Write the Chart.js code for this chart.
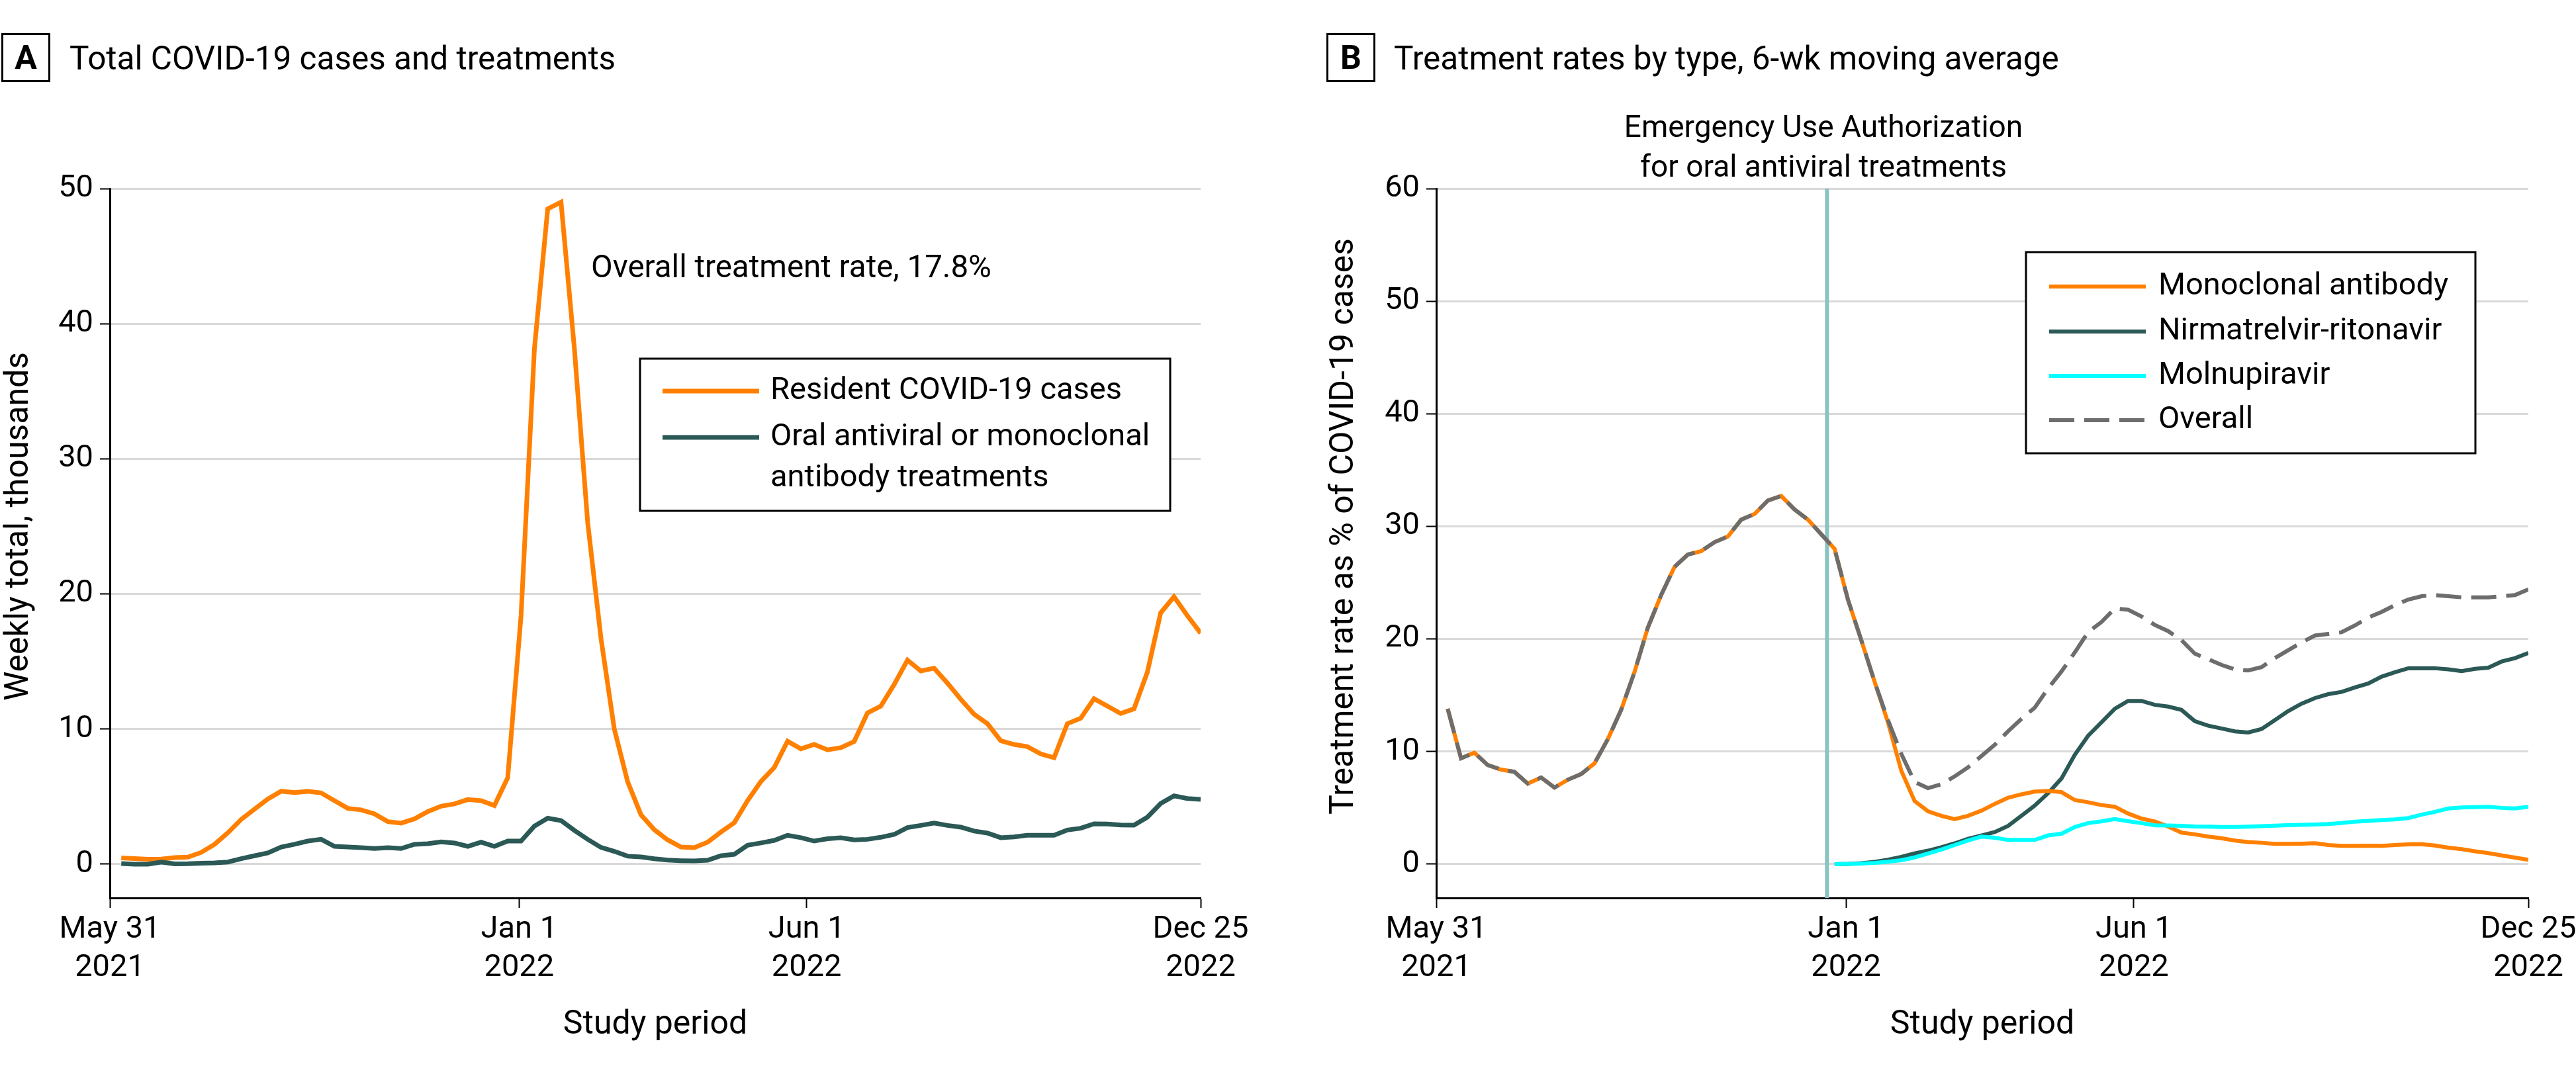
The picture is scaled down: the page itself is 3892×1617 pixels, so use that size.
<!DOCTYPE html>
<html>
<head>
<meta charset="utf-8">
<script src="https://cdn.jsdelivr.net/npm/chart.js@4.4.1/dist/chart.umd.min.js"></script>
<style>
  body { margin: 0; background: #fff; width: 3892px; height: 1617px; position: relative; overflow: hidden; font-family: Roboto, sans-serif; color: #000; }
  .panel { position: absolute; top: 0; width: 1946px; height: 1617px; }
  #panelA { left: 0; }
  #panelB { left: 1946px; }
  canvas { position: absolute; left: 0; top: 0; }
  .tag { position: absolute; top: 50px; width: 68px; height: 68px; border: 3px solid #000; font-weight: bold; font-size: 50px; line-height: 68px; text-align: center; }
  .title { position: absolute; top: 58px; font-size: 49.5px; line-height: 60px; white-space: nowrap; }
  .note { position: absolute; font-size: 47.5px; line-height: 60px; white-space: nowrap; }
</style>
</head>
<body>
<div class="panel" id="panelA">
  <canvas id="chartA" width="1946" height="1617"></canvas>
  <div class="tag" style="left:2px">A</div>
  <div class="title" style="left:105px">Total COVID-19 cases and treatments</div>
  <div class="note" style="left:893px; top:373px">Overall treatment rate, 17.8%</div>
</div>
<div class="panel" id="panelB">
  <canvas id="chartB" width="1946" height="1617"></canvas>
  <div class="tag" style="left:58px">B</div>
  <div class="title" style="left:160px">Treatment rates by type, 6-wk moving average</div>
  <div class="note" style="left:309px; width:1000px; top:161px; text-align:center; font-size:46px">Emergency Use Authorization<br>for oral antiviral treatments</div>
</div>
<script>
const FONT = 'Roboto';

// weeks ending Sun Jun 6 2021 ... Sun Dec 25 2022, as days after May 31 2021
const weekDays = Array.from({ length: 82 }, (_, i) => 6 + 7 * i);

const tickDays = [0, 215, 366, 573];
const tickLabels = [['May 31', '2021'], ['Jan 1', '2022'], ['Jun 1', '2022'], ['Dec 25', '2022']];
const yTicksA = [0, 10, 20, 30, 40, 50];
const yTicksB = [0, 10, 20, 30, 40, 50, 60];
const euaDay = 205; // Dec 22 2021

// Panel A, weekly totals in thousands
const residentCases = [
  0.46, 0.41, 0.36, 0.38, 0.49, 0.52, 0.87, 1.47, 2.33, 3.31,
  4.08, 4.82, 5.4, 5.3, 5.39, 5.27, 4.7, 4.13, 4.02, 3.72,
  3.15, 3.04, 3.35, 3.89, 4.29, 4.46, 4.78, 4.7, 4.34, 6.4,
  18.4, 38.1, 48.5, 49.0, 38.2, 25.3, 16.7, 10.0, 6.1, 3.65,
  2.55, 1.8, 1.27, 1.22, 1.63, 2.38, 3.07, 4.7, 6.12, 7.15,
  9.1, 8.54, 8.86, 8.46, 8.62, 9.08, 11.2, 11.7, 13.3, 15.1,
  14.3, 14.5, 13.4, 12.2, 11.1, 10.4, 9.14, 8.86, 8.7, 8.16,
  7.88, 10.4, 10.8, 12.25, 11.7, 11.15, 11.5, 14.2, 18.6, 19.8,
  18.4, 17.1
];
const treatments = [
  0.05, 0.0, 0.0, 0.16, 0.02, 0.03, 0.07, 0.1, 0.16, 0.41,
  0.62, 0.83, 1.27, 1.47, 1.71, 1.84, 1.32, 1.27, 1.22, 1.16,
  1.22, 1.16, 1.47, 1.52, 1.65, 1.57, 1.32, 1.63, 1.32, 1.71,
  1.71, 2.82, 3.4, 3.23, 2.5, 1.84, 1.24, 0.95, 0.59, 0.54,
  0.4, 0.3, 0.26, 0.24, 0.29, 0.62, 0.73, 1.4, 1.57, 1.76,
  2.14, 1.96, 1.71, 1.88, 1.96, 1.8, 1.84, 1.99, 2.2, 2.71,
  2.87, 3.04, 2.87, 2.74, 2.45, 2.3, 1.96, 2.02, 2.14, 2.14,
  2.14, 2.53, 2.66, 2.99, 2.97, 2.9, 2.89, 3.48, 4.49, 5.06,
  4.86, 4.8
];

// Panel B, % of cases, 6-wk moving average
const monoclonal = [
  13.8, 9.4, 9.9, 8.8, 8.4, 8.2, 7.15, 7.7, 6.8, 7.5,
  8.0, 8.95, 11.1, 13.7, 17.05, 21.0, 23.9, 26.4, 27.5, 27.8,
  28.6, 29.1, 30.6, 31.1, 32.3, 32.7, 31.5, 30.6, 29.3, 28.0,
  23.5, 19.9, 16.2, 12.6, 8.3, 5.6, 4.7, 4.3, 4.0, 4.3,
  4.75, 5.35, 5.9, 6.2, 6.45, 6.5, 6.4, 5.7, 5.5, 5.25,
  5.1, 4.5, 4.05, 3.8, 3.35, 2.8, 2.65, 2.45, 2.3, 2.1,
  1.96, 1.9, 1.8, 1.8, 1.82, 1.86, 1.7, 1.63, 1.63, 1.65,
  1.63, 1.7, 1.76, 1.78, 1.66, 1.47, 1.33, 1.14, 0.98, 0.78,
  0.59, 0.39
];
const nirmatrelvir = [
  null, null, null, null, null, null, null, null, null, null,
  null, null, null, null, null, null, null, null, null, null,
  null, null, null, null, null, null, null, null, null, 0.0,
  0.02, 0.08, 0.2, 0.4, 0.65, 0.95, 1.2, 1.5, 1.85, 2.25,
  2.55, 2.85, 3.4, 4.3, 5.2, 6.3, 7.6, 9.7, 11.4, 12.6,
  13.8, 14.5, 14.5, 14.15, 14.0, 13.7, 12.7, 12.3, 12.05, 11.8,
  11.7, 12.0, 12.8, 13.6, 14.25, 14.75, 15.1, 15.3, 15.7, 16.05,
  16.65, 17.05, 17.4, 17.4, 17.4, 17.3, 17.15, 17.35, 17.45, 18.0,
  18.3, 18.75
];
const molnupiravir = [
  null, null, null, null, null, null, null, null, null, null,
  null, null, null, null, null, null, null, null, null, null,
  null, null, null, null, null, null, null, null, null, 0.0,
  0.02, 0.05, 0.12, 0.22, 0.35, 0.6, 0.95, 1.3, 1.7, 2.1,
  2.45, 2.35, 2.15, 2.15, 2.15, 2.55, 2.7, 3.3, 3.65, 3.8,
  4.0, 3.82, 3.65, 3.45, 3.43, 3.4, 3.35, 3.33, 3.3, 3.3,
  3.33, 3.38, 3.42, 3.47, 3.5, 3.53, 3.57, 3.66, 3.78, 3.85,
  3.92, 3.98, 4.1, 4.4, 4.65, 4.95, 5.03, 5.06, 5.1, 5.0,
  4.95, 5.1
];
const overall = [
  13.8, 9.4, 9.9, 8.8, 8.4, 8.2, 7.15, 7.7, 6.8, 7.5,
  8.0, 8.95, 11.1, 13.7, 17.05, 21.0, 23.9, 26.4, 27.5, 27.8,
  28.6, 29.1, 30.6, 31.1, 32.3, 32.7, 31.5, 30.6, 29.3, 28.0,
  23.5, 19.9, 16.2, 12.8, 9.8, 7.3, 6.75, 7.1, 7.8, 8.6,
  9.6, 10.6, 11.8, 12.9, 13.9, 15.6, 17.1, 18.8, 20.6, 21.5,
  22.7, 22.6, 22.0, 21.25, 20.7, 19.9, 18.7, 18.2, 17.7, 17.3,
  17.2, 17.5, 18.3, 19.0, 19.7, 20.3, 20.45, 20.6, 21.2, 21.9,
  22.4, 23.0, 23.5, 23.8, 23.9, 23.8, 23.7, 23.7, 23.7, 23.8,
  23.9, 24.4
];

const ORANGE = '#ff8000';
const TEAL = '#2b5956';
const CYAN = '#00ffff';
const GREY = '#6d6d6d';

const points = vals => weekDays.map((d, i) => ({ x: d, y: vals[i] }));

function line(label, vals, color, width, extra) {
  return Object.assign({
    label, data: points(vals), borderColor: color, backgroundColor: color,
    borderWidth: width, pointRadius: 0, tension: 0, fill: false, spanGaps: false,
    borderJoinStyle: 'miter'
  }, extra || {});
}

// vertical marker for the EUA date
const euaLine = {
  id: 'euaLine',
  beforeDatasetsDraw(chart, args, opts) {
    if (opts.day == null) return;
    const { ctx, chartArea } = chart;
    const x = chart.scales.x.getPixelForValue(opts.day);
    ctx.save();
    ctx.strokeStyle = '#88c4c2';
    ctx.lineWidth = 6;
    ctx.beginPath();
    ctx.moveTo(x, chartArea.top);
    ctx.lineTo(x, chartArea.bottom);
    ctx.stroke();
    ctx.restore();
  }
};

// y title centred on the tick range, not on the whole axis
const yTitle = {
  id: 'yTitle',
  afterDraw(chart, args, opts) {
    const y = chart.scales.y;
    const mid = (y.getPixelForValue(0) + y.getPixelForValue(y.max)) / 2;
    const ctx = chart.ctx;
    ctx.save();
    ctx.translate(opts.x, mid);
    ctx.rotate(-Math.PI / 2);
    ctx.font = '50px ' + FONT;
    ctx.fillStyle = '#000';
    ctx.textAlign = 'center';
    ctx.textBaseline = 'middle';
    ctx.fillText(opts.text, 0, 0);
    ctx.restore();
  }
};

// boxed legend floating inside the plot
const boxLegend = {
  id: 'boxLegend',
  afterDraw(chart, args, opts) {
    const ctx = chart.ctx;
    const [x1, y1, x2, y2] = opts.box;
    ctx.save();
    ctx.fillStyle = '#fff';
    ctx.fillRect(x1, y1, x2 - x1, y2 - y1);
    ctx.strokeStyle = '#000';
    ctx.lineWidth = 3;
    ctx.strokeRect(x1, y1, x2 - x1, y2 - y1);
    ctx.font = '47px ' + FONT;
    ctx.textBaseline = 'middle';
    ctx.fillStyle = '#000';
    opts.rows.forEach(r => {
      const ds = chart.data.datasets[r.ds];
      ctx.save();
      ctx.strokeStyle = ds.borderColor;
      ctx.lineWidth = ds.borderWidth;
      ctx.setLineDash(ds.borderDash || []);
      ctx.beginPath();
      ctx.moveTo(opts.sample[0], r.y);
      ctx.lineTo(opts.sample[1], r.y);
      ctx.stroke();
      ctx.restore();
      r.lines.forEach((t, j) => ctx.fillText(t, opts.textX, r.y + j * opts.lineGap));
    });
    ctx.restore();
  }
};

function xScale() {
  return {
    type: 'linear', min: 0, max: 573,
    afterBuildTicks: s => { s.ticks = tickDays.map(v => ({ value: v })); },
    afterFit: s => { s.height = 260; s.paddingLeft = 0; s.paddingRight = 0; },
    ticks: {
      autoSkip: false, maxRotation: 0, minRotation: 0, padding: 5, color: '#000',
      font: { family: FONT, size: 47, lineHeight: 1.22 },
      callback: (v, i) => tickLabels[i]
    },
    grid: { drawOnChartArea: false, drawTicks: true, tickLength: 15, tickWidth: 2, tickColor: '#000' },
    border: { color: '#000', width: 3 },
    title: { display: true, text: 'Study period', color: '#000', font: { family: FONT, size: 50 }, padding: { top: 0, bottom: 38 } }
  };
}

function yScale(min, max, ticks, width) {
  return {
    type: 'linear', min, max,
    afterBuildTicks: s => { s.ticks = ticks.map(v => ({ value: v })); },
    afterFit: s => { s.width = width; },
    ticks: { padding: 10, color: '#000', font: { family: FONT, size: 47 } },
    grid: { color: '#d9d9d9', lineWidth: 3, drawTicks: true, tickLength: 15, tickWidth: 2, tickColor: '#000' },
    border: { color: '#000', width: 3 }
  };
}

function baseOptions(pad, yOpts, plugins) {
  return {
    responsive: false, animation: false, devicePixelRatio: 1, events: [],
    layout: { padding: pad },
    scales: { x: xScale(), y: yOpts },
    plugins: Object.assign({ legend: { display: false }, tooltip: { enabled: false } }, plugins)
  };
}

new Chart(document.getElementById('chartA'), {
  type: 'line',
  data: {
    datasets: [
      line('Resident COVID-19 cases', residentCases, ORANGE, 7, { order: 1 }),
      line('Oral antiviral or monoclonal antibody treatments', treatments, TEAL, 7, { order: 0 })
    ]
  },
  options: baseOptions({ left: 0, right: 132, top: 285, bottom: 0 }, yScale(-2.5, 50, yTicksA, 166), {
    yTitle: { text: 'Weekly total, thousands', x: 29 },
    boxLegend: {
      box: [967, 542, 1768, 772], sample: [1001, 1147], textX: 1164, lineGap: 62,
      rows: [
        { ds: 0, y: 591, lines: ['Resident COVID-19 cases'] },
        { ds: 1, y: 661, lines: ['Oral antiviral or monoclonal', 'antibody treatments'] }
      ]
    }
  }),
  plugins: [yTitle, boxLegend]
});

new Chart(document.getElementById('chartB'), {
  type: 'line',
  data: {
    datasets: [
      line('Monoclonal antibody', monoclonal, ORANGE, 6, { order: 2 }),
      line('Nirmatrelvir-ritonavir', nirmatrelvir, TEAL, 6, { order: 3 }),
      line('Molnupiravir', molnupiravir, CYAN, 6, { order: 1 }),
      line('Overall', overall, GREY, 6, { order: 0, borderDash: [38, 15] })
    ]
  },
  options: baseOptions({ left: 0, right: 72, top: 285, bottom: 0 }, yScale(-3, 60, yTicksB, 224), {
    euaLine: { day: euaDay },
    yTitle: { text: 'Treatment rate as % of COVID-19 cases', x: 85 },
    boxLegend: {
      box: [1115, 381, 1794, 685], sample: [1150, 1296], textX: 1315, lineGap: 62,
      rows: [
        { ds: 0, y: 433, lines: ['Monoclonal antibody'] },
        { ds: 1, y: 501, lines: ['Nirmatrelvir-ritonavir'] },
        { ds: 2, y: 568, lines: ['Molnupiravir'] },
        { ds: 3, y: 635, lines: ['Overall'] }
      ]
    }
  }),
  plugins: [euaLine, yTitle, boxLegend]
});
</script>
</body>
</html>
